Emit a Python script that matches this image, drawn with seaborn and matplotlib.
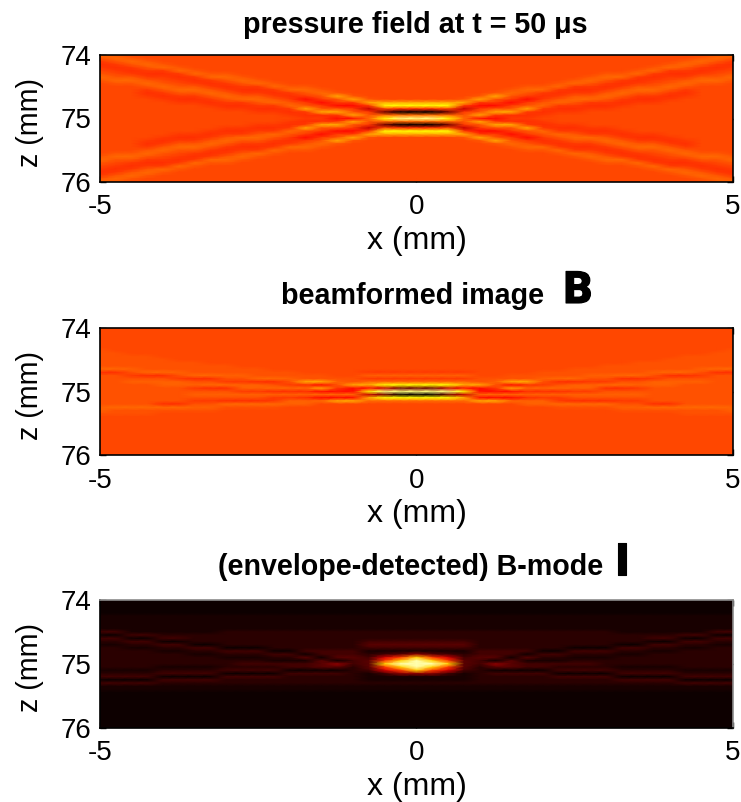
import numpy as np
import pandas as pd
import matplotlib
matplotlib.use("Agg")
import matplotlib.pyplot as plt
import matplotlib.patheffects as pe
import seaborn as sns

# Heat-map levels. One string per z row (74.00, 74.05 ... 76.00 mm),
# one character per x column from -5 to 0 mm in 0.25 mm steps; the field is symmetric in x.
pressure_upper_rows = [
    "6a5555555555555555555",
    "a6a555555555555555555",
    "ba6a55555555555555555",
    "4ba6a5555555555555555",
    "b4ba6a555555555555555",
    "5b4bb6a55555555555555",
    "a5b44b6aa555555555555",
    "6aabb4b66a55555555555",
    "a66a5b4ba6a5555555555",
    "5aa6a5b4ba6a555555555",
    "555a6aab4bb6aa5555555",
    "555ba66ab44b66a555555",
    "5554baa6abb4ba6a55555",
    "555b4bba6aab4ba7a5555",
    "5555b44ba66ab3ba7a555",
    "55555bb4bba6ab3bb7777",
    "5555555b44bb6ab33b888",
    "55555555bb44b7aab2544",
    "5555555555bb4b77ab100",
    "555555555555b44b7a666",
    "5555555555555bb336899",
]
pressure_rows = pressure_upper_rows + pressure_upper_rows[-2::-1]

beamformed_rows = [
    "555555555555555555555",
    "555555555555555555555",
    "555555555555555555555",
    "555555555555555555555",
    "555555555555555555555",
    "555555555555555555555",
    "555555555555555555555",
    "e55555555555555555555",
    "ee5555555555555555555",
    "eeee55555555555555555",
    "eeeee5555555555555555",
    "eeeeeee55555555555555",
    "eeeeeeeee555555555555",
    "66ceeeeeeee5555555555",
    "44e66ceeeeeee5555bbbb",
    "eeb44e66cceeeee55cccc",
    "eeeeeb44ee66ceeeebbbb",
    "eecccceebb44e77ce6666",
    "eeeeccc66cceb43e77888",
    "eeeeeeb44cc6667b33211",
    "eeeeeeeeebb4443338999",
    "eeeeeecccccccc6662100",
    "eeeeeeeeeeebb43337888",
    "eeeeeebb444bcc6776666",
    "eeee44ee6666cc5555555",
    "c66666cceeee555555555",
    "ceeeeeee5555555555555",
    "eeee55555555555555555",
    "555555555555555555555",
    "555555555555555555555",
    "555555555555555555555",
    "555555555555555555555",
    "555555555555555555555",
    "555555555555555555555",
    "555555555555555555555",
    "555555555555555555555",
    "555555555555555555555",
    "555555555555555555555",
    "555555555555555555555",
    "555555555555555555555",
    "555555555555555555555",
]

bmode_rows = [
    "000000000000000000000",
    "000000000000000000000",
    "000000000000000000000",
    "000000000000000000000",
    "000000000000000000000",
    "111111111111111111111",
    "111111111111111111111",
    "111111111111111111111",
    "111111111111111111111",
    "111111111111111111111",
    "331111112222222222222",
    "003322222222222222222",
    "330033222222222222222",
    "223300222222222223333",
    "112233002222222224444",
    "221122330002222223333",
    "222211223330033331111",
    "222222112223303332345",
    "222222221112240443678",
    "222222222221114034789",
    "222222222333334534899",
    "222211112222334424789",
    "111122223333000023678",
    "222233330000333321355",
    "333300003333222221111",
    "000033332222222221111",
    "333322222222222222222",
    "111111111111111111111",
    "111111111111111111111",
    "000000000000000000000",
    "000000000000000000000",
    "000000000000000000000",
    "000000000000000000000",
    "000000000000000000000",
    "000000000000000000000",
    "000000000000000000000",
    "000000000000000000000",
    "000000000000000000000",
    "000000000000000000000",
    "000000000000000000000",
    "000000000000000000000",
]

# Colormap position of each level character.
field_levels = {"0": 0.0, "1": 0.15, "2": 0.28, "3": 0.38, "4": 0.435, "b": 0.452, "5": 0.47,
                "e": 0.485, "a": 0.495, "c": 0.51, "6": 0.52, "7": 0.62, "8": 0.74, "9": 0.87}
bmode_levels = {"0": 0.006, "1": 0.02, "2": 0.05, "3": 0.085, "4": 0.12, "5": 0.2,
                "6": 0.3, "7": 0.45, "8": 0.68, "9": 0.92}

x_tick_labels = ["-5", "0", "5"]
z_tick_labels = ["74", "75", "76"]
titles = ["pressure field at t = 50 \u03bcs", "beamformed image", "(envelope-detected) B-mode"]
title_marks = ["", "B", "I"]
x_label = "x (mm)"
z_label = "z (mm)"


def decode(rows, levels):
    half = np.array([[levels[ch] for ch in row] for row in rows])
    return pd.DataFrame(np.hstack([half, half[:, -2::-1]]))


sns.set_theme(style="white")
plt.rcParams["font.family"] = ["Liberation Sans", "DejaVu Sans"]
plt.rcParams["text.color"] = "black"
plt.rcParams["axes.labelcolor"] = "black"
plt.rcParams["xtick.color"] = "black"
plt.rcParams["ytick.color"] = "black"

W, H = 741, 802
fig = plt.figure(figsize=(W / 100, H / 100), dpi=100, facecolor="white")

panels = [
    (decode(pressure_rows, field_levels), 55, 182, "black"),
    (decode(beamformed_rows, field_levels), 328, 455, "black"),
    (decode(bmode_rows, bmode_levels), 600, 728, "#8c8c8c"),
]
title_x = [415, 413, 411]
title_y = [25, 296, 567]
mark_x = [None, 578, 622]
mark_y = [None, 291, 563]

for i, (df, top, bottom, edge) in enumerate(panels):
    ax = fig.add_axes([100 / W, 1 - bottom / H, 633 / W, (bottom - top) / H])
    sns.heatmap(df, cmap="hot", vmin=0, vmax=1, cbar=False, shading="gouraud",
                xticklabels=False, yticklabels=False, ax=ax)
    ncol, nrow = df.shape[1] - 1, df.shape[0] - 1
    ax.set_xlim(0, ncol)
    ax.set_ylim(nrow, 0)
    ax.set_xticks([0, ncol / 2, ncol], x_tick_labels)
    ax.set_yticks([0, nrow / 2, nrow], z_tick_labels)
    ax.tick_params(axis="both", which="major", direction="in", length=4.5, width=1,
                   top=True, right=True, bottom=True, left=True, labelsize=20)
    ax.tick_params(axis="x", pad=9)
    ax.tick_params(axis="y", pad=6)
    ax.set_xlabel(x_label, fontsize=23, labelpad=4)
    ax.set_ylabel(z_label, fontsize=20.7, labelpad=12, y=0.47)
    for name, spine in ax.spines.items():
        spine.set_visible(True)
        spine.set_linewidth(1.2)
        spine.set_color("black" if name in ("left", "bottom") else edge)
    fig.text(title_x[i] / W, 1 - title_y[i] / H, titles[i], ha="center", va="center",
             fontsize=20.6, fontweight="bold")
    if title_marks[i]:
        fig.text(mark_x[i] / W, 1 - mark_y[i] / H, title_marks[i], ha="center", va="center",
                 fontsize=32, fontweight="black", family=["Roboto", "Liberation Sans"],
                 path_effects=[pe.withStroke(linewidth=0.8, foreground="black")])

fig.savefig("out.png", dpi=100, facecolor="white")
